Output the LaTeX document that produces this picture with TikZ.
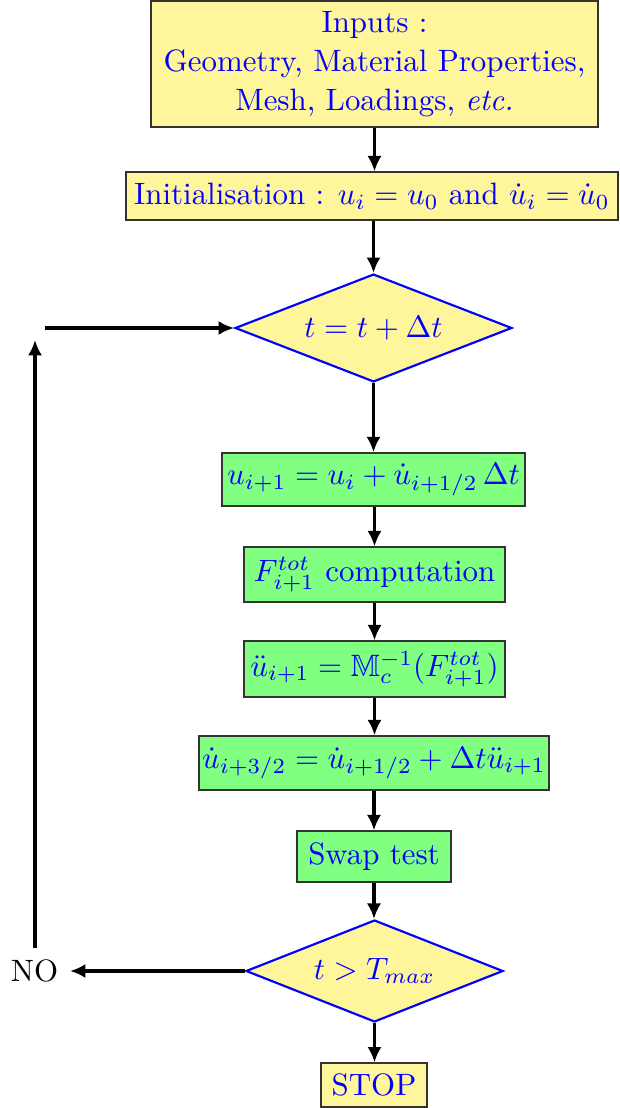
\documentclass[tikz,border=0pt]{standalone}
\usepackage{amssymb}
\usetikzlibrary{shapes.geometric,arrows.meta}
\definecolor{boxyellow}{RGB}{255,245,155}
\definecolor{boxgreen}{RGB}{128,255,128}
\begin{document}
\begin{tikzpicture}[x=0.3236pt,y=-0.3236pt,
  every node/.style={font=\fontsize{10}{12.6}\selectfont},
  ybox/.style={draw=black!80, fill=boxyellow, text=blue, inner sep=0pt, line width=0.4pt},
  gbox/.style={draw=black!80, fill=boxgreen, text=blue, inner sep=0pt, line width=0.4pt},
  dbox/.style={diamond, draw=blue, fill=boxyellow, text=blue, inner sep=0pt, line width=0.7pt},
  arr/.style={-{Latex[length=5pt,width=4.6pt]}, line width=1pt}]
\useasboundingbox (0,0) rectangle (619,1108);

\node[ybox, minimum width=144.6pt, minimum height=40.8pt, align=center] (inputs) at (374.5,64)
  {Inputs :\\Geometry, Material Properties,\\Mesh, Loadings, \textit{etc.}};
\node[ybox, minimum width=159.2pt, minimum height=15.5pt] (init) at (372,196)
  {Initialisation : $u_i = u_0$ and $\dot{u}_i = \dot{u}_0$};
\node[dbox, shape aspect=2.57, minimum width=89.6pt, minimum height=34.9pt] (d1) at (373.5,328) {$t = t + \Delta t$};
\node[gbox, minimum width=98pt, minimum height=17.2pt] (g1) at (373.5,479.5)
  {$u_{i+1} = u_i + \dot{u}_{i+1/2}\,\Delta t$};
\node[gbox, minimum width=84.5pt, minimum height=17.8pt] (g2) at (374.5,574.5)
  {$F^{tot}_{i+1}$ computation};
\node[gbox, minimum width=84.5pt, minimum height=18.1pt] (g3) at (374.5,669)
  {$\ddot{u}_{i+1} = \mathbb{M}_c^{-1}(F^{tot}_{i+1})$};
\node[gbox, minimum width=113.3pt, minimum height=17.5pt] (g4) at (374,763)
  {$\dot{u}_{i+3/2} = \dot{u}_{i+1/2} + \Delta t \ddot{u}_{i+1}$};
\node[gbox, minimum width=49.8pt, minimum height=16.5pt] (g5) at (374,856.5) {Swap test};
\node[dbox, shape aspect=2.52, minimum width=83.2pt, minimum height=33pt] (d2) at (374.5,971) {$t > T_{max}$};
\node[ybox, minimum width=34.3pt, minimum height=14.2pt] (stop) at (374,1085) {STOP};
\node[inner sep=0pt] (no) at (34.5,971) {NO};
\coordinate (noend) at (70,971);
\coordinate (upstart) at (35,948);
\coordinate (up) at (35,340);
\coordinate (loop) at (45,328);

\draw[arr] (inputs.south) -- (inputs.south |- init.north);
\draw[arr] (init.south -| d1.north) -- (d1.north);
\draw[arr] (d1.south) -- (d1.south |- g1.north);
\draw[arr] (g1.south -| g2.north) -- (g2.north);
\draw[arr] (g2.south) -- (g3.north);
\draw[arr] (g3.south) -- (g3.south |- g4.north);
\draw[arr] (g4.south -| g5.north) -- (g5.north);
\draw[arr] (g5.south) -- (g5.south |- d2.north);
\draw[arr] (d2.south) -- (d2.south |- stop.north);
\draw[arr] (d2.west) -- (noend);
\draw[arr] (upstart) -- (up);
\draw[arr] (loop) -- (d1.west);
\end{tikzpicture}
\end{document}
